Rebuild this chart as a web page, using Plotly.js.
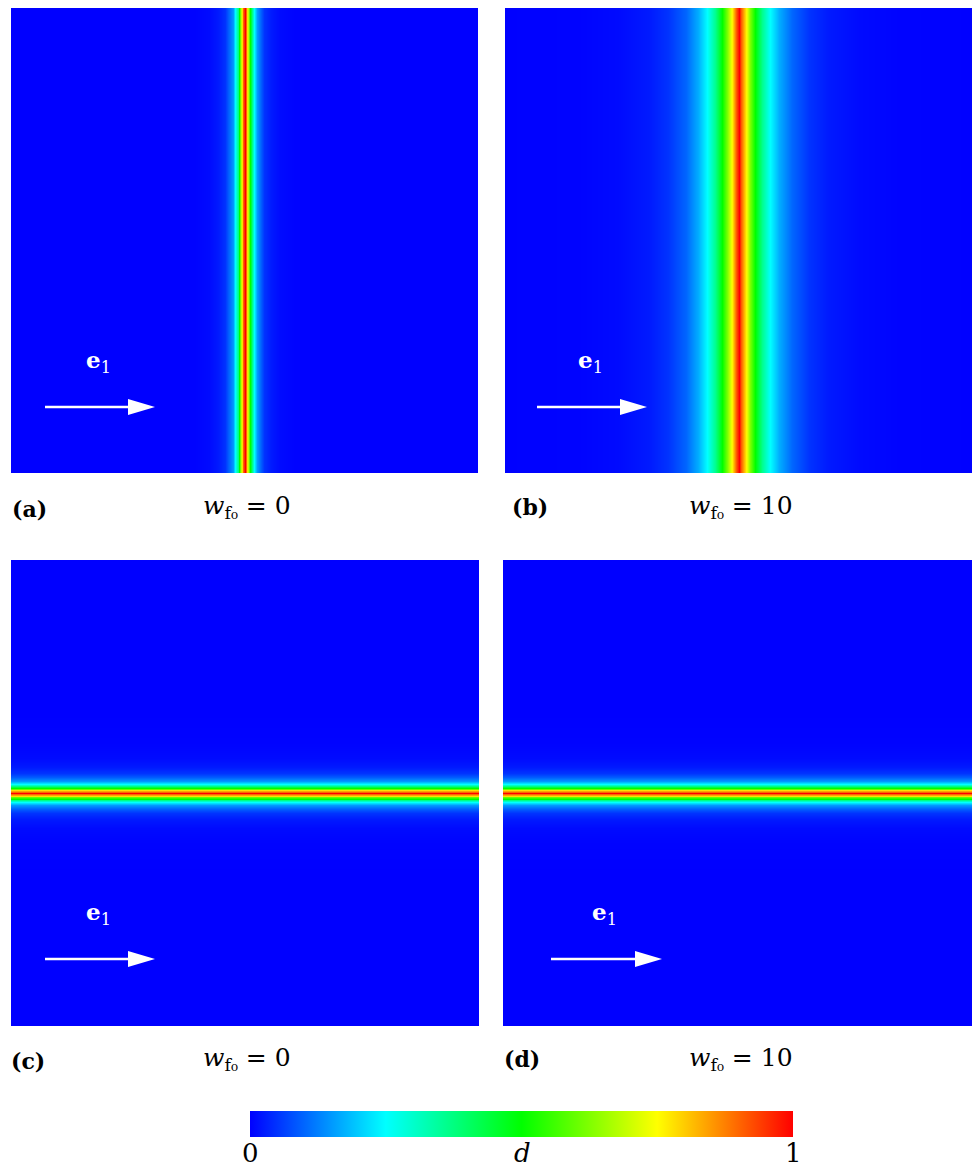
<!DOCTYPE html>
<html>
<head>
<meta charset="utf-8">
<script src="https://cdn.plot.ly/plotly-3.0.1.min.js"></script>
<style>html,body{margin:0;padding:0;background:#fff;}#chart{width:973px;height:1168px;}</style>
</head>
<body>
<div id="chart"></div>
<script>
// ---- Data ----
// Distance from the crack centre line (fraction of panel width) and damage d there.
const narrowOffset = [0, 0.0032, 0.0064, 0.0096, 0.0118, 0.015, 0.0193, 0.0257, 0.0343, 0.0428, 0.0557, 0.075, 0.107, 0.171, 0.6];
const narrowD      = [1, 0.9,    0.78,   0.6,    0.5,    0.37,  0.25,   0.15,   0.09,   0.05,   0.025,  0.01,  0.003, 0,     0];
const wideOffset   = [0, 0.0064, 0.015, 0.0236, 0.0343, 0.0493, 0.0664, 0.0857, 0.1135, 0.15, 0.1927, 0.257, 0.343, 0.6];
const wideD        = [1, 0.91,   0.76,  0.62,   0.5,    0.36,   0.25,   0.17,   0.1,    0.05, 0.025,  0.01,  0.003, 0];
const crackCentre  = 0.5;
const panelLabels  = ['(a)', '(b)', '(c)', '(d)'];
const wf0Values    = [0, 10, 0, 10];
const colorTicks   = [0, 1];

// ---- helpers ----
function profile(off, d) {
  const pos = [], val = [];
  for (let i = off.length - 1; i > 0; i--) { pos.push(crackCentre - off[i]); val.push(d[i]); }
  for (let i = 0; i < off.length; i++) { pos.push(crackCentre + off[i]); val.push(d[i]); }
  return {pos, val};
}
const W = 973, H = 1168;
const px = x => x / W, py = y => 1 - y / H;
const SERIF = '"DejaVu Serif", serif';

const jet = [[0, '#0000ff'], [0.25, '#00ffff'], [0.5, '#00ff00'], [0.75, '#ffff00'], [1, '#ff0000']];

const panels = [
  {box: [11, 478, 8, 473],   prof: profile(narrowOffset, narrowD), dir: 'v'},
  {box: [505, 972, 8, 473],  prof: profile(wideOffset, wideD),     dir: 'v'},
  {box: [11, 479, 560, 1026], prof: profile(narrowOffset, narrowD), dir: 'h'},
  {box: [503, 972, 560, 1026], prof: profile(narrowOffset, narrowD), dir: 'h'}
];

const traces = [];
const layout = {
  width: W, height: H,
  margin: {l: 0, r: 0, t: 0, b: 0},
  paper_bgcolor: '#fff', plot_bgcolor: '#fff',
  showlegend: false,
  font: {family: SERIF},
  annotations: [], shapes: []
};

panels.forEach((p, i) => {
  const n = i === 0 ? '' : String(i + 1);
  const span = [-0.1, 1.1];
  let t;
  if (p.dir === 'v') {
    t = {type: 'heatmap', x: p.prof.pos, y: span, z: [p.prof.val, p.prof.val]};
  } else {
    t = {type: 'heatmap', x: span, y: p.prof.pos, z: p.prof.val.map(v => [v, v])};
  }
  Object.assign(t, {
    xaxis: 'x' + n, yaxis: 'y' + n,
    colorscale: jet, zmin: 0, zmax: 1, zsmooth: 'best',
    hoverinfo: 'skip', showscale: i === 0
  });
  if (i === 0) {
    t.colorbar = {
      orientation: 'h', x: px(521.5), xanchor: 'center',
      y: py(1111), yanchor: 'top', yref: 'paper',
      len: 543, lenmode: 'pixels', thickness: 26, thicknessmode: 'pixels',
      xpad: 0, ypad: 0, outlinewidth: 0,
      tickmode: 'array', tickvals: colorTicks,
      ticks: '', ticklen: 0, showticklabels: false
    };
  }
  traces.push(t);
  const [x0, x1, y0, y1] = p.box;
  const ax = {showgrid: false, zeroline: false, showticklabels: false, ticks: '', showline: false, range: [0, 1], fixedrange: true};
  layout['xaxis' + n] = Object.assign({}, ax, {domain: [px(x0), px(x1)], anchor: 'y' + n});
  layout['yaxis' + n] = Object.assign({}, ax, {domain: [py(y1), py(y0)], anchor: 'x' + n});
});

// panel labels and w_f0 captions
const labelPos = [[29, 509], [530, 507], [28, 1061], [522, 1059]];
const capPos   = [[247, 507], [741, 507], [247, 1059], [741, 1059]];
panelLabels.forEach((lab, i) => {
  layout.annotations.push({
    xref: 'paper', yref: 'paper', x: px(labelPos[i][0]), y: py(labelPos[i][1]),
    xanchor: 'center', yanchor: 'middle', showarrow: false,
    text: '<b>' + lab + '</b>',
    font: {family: SERIF, size: 22, color: '#000'}
  });
  layout.annotations.push({
    xref: 'paper', yref: 'paper', x: px(capPos[i][0]), y: py(capPos[i][1]),
    xanchor: 'center', yanchor: 'middle', showarrow: false,
    text: '<i>w</i><sub>f₀</sub> = ' + wf0Values[i],
    font: {family: SERIF, size: 25, color: '#000'}
  });
});

// e1 arrows
const arrows = [[45, 155, 407, 98, 361], [537, 647, 407, 590, 361], [45, 155, 959, 98, 913], [551, 662, 959, 604, 913]];
arrows.forEach(a => {
  const [xs, xe, y, tx, ty] = a;
  const head = 27, hh = 8;
  layout.shapes.push({type: 'line', xref: 'paper', yref: 'paper',
    x0: px(xs), x1: px(xe - head + 2), y0: py(y), y1: py(y),
    line: {color: '#fff', width: 2.6}});
  layout.shapes.push({type: 'path', xref: 'paper', yref: 'paper',
    path: 'M ' + px(xe - head) + ' ' + py(y - hh) + ' L ' + px(xe) + ' ' + py(y) + ' L ' + px(xe - head) + ' ' + py(y + hh) + ' Z',
    fillcolor: '#fff', line: {color: '#fff', width: 0}});
  layout.annotations.push({
    xref: 'paper', yref: 'paper', x: px(tx), y: py(ty),
    xanchor: 'center', yanchor: 'middle', showarrow: false,
    text: '<b>e</b><sub>1</sub>',
    font: {family: SERIF, size: 23, color: '#fff'}
  });
});

// colorbar end values and quantity label
const cbEnds = [250, 793];
colorTicks.forEach((v, i) => {
  layout.annotations.push({
    xref: 'paper', yref: 'paper', x: px(cbEnds[i]), y: py(1153),
    xanchor: 'center', yanchor: 'middle', showarrow: false,
    text: String(v),
    font: {family: SERIF, size: 26, color: '#000'}
  });
});
layout.annotations.push({
  xref: 'paper', yref: 'paper', x: px(522), y: py(1153),
  xanchor: 'center', yanchor: 'middle', showarrow: false,
  text: '<i>d</i>',
  font: {family: SERIF, size: 26, color: '#000'}
});

Plotly.newPlot('chart', traces, layout, {staticPlot: true, displayModeBar: false});
</script>
</body>
</html>
